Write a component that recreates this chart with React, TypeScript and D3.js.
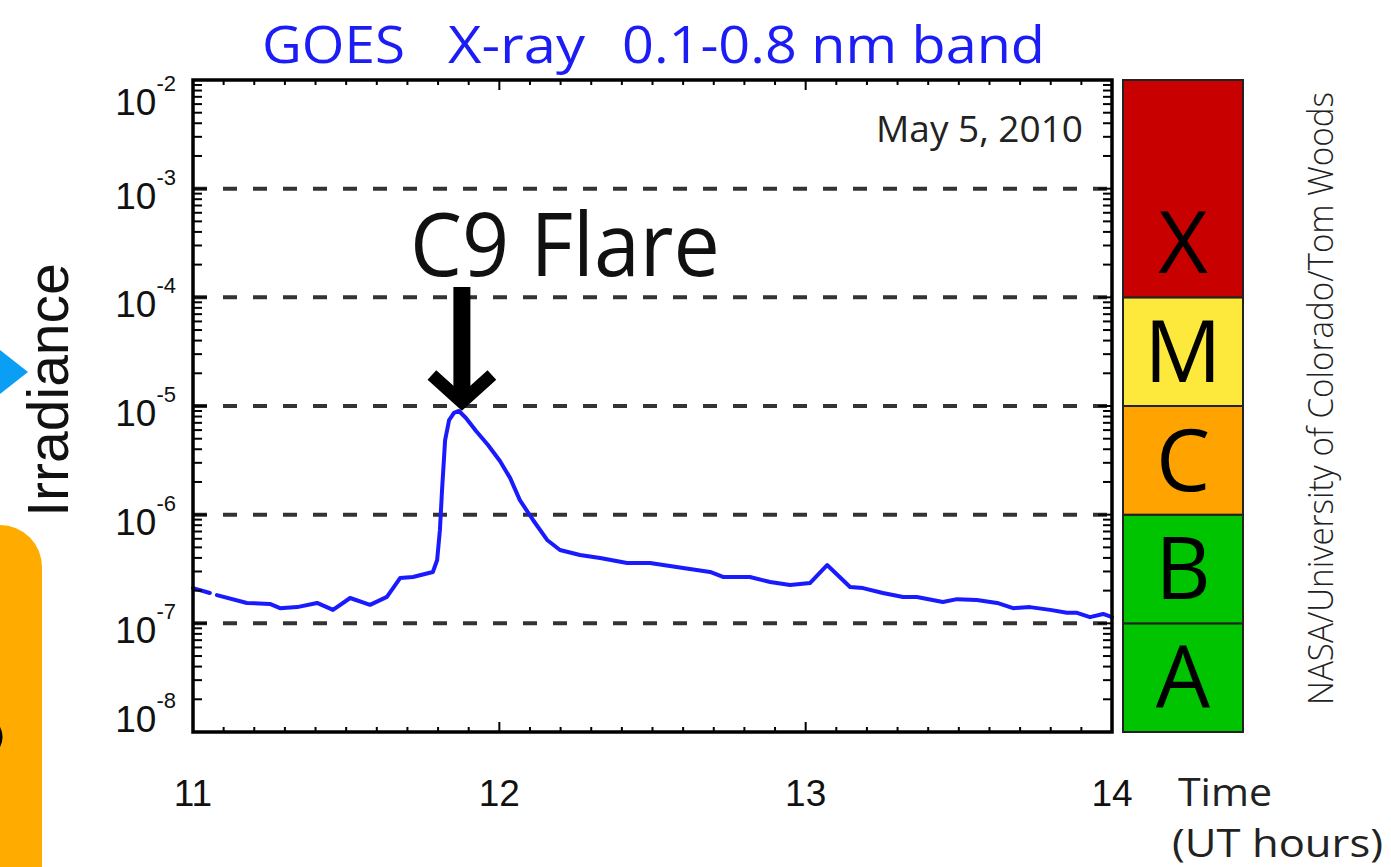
import React from 'react';
import * as d3 from 'd3';

// GOES 0.1-0.8 nm irradiance, May 5 2010; null = data gap
const hours = [
  11.0, 11.055, 11.066, 11.078, 11.176, 11.251, 11.284, 11.34, 11.405, 11.457, 11.513, 11.578,
  11.633, 11.676, 11.718, 11.783, 11.797, 11.806, 11.813, 11.823, 11.836, 11.852, 11.868,
  11.891, 11.924, 11.963, 12.002, 12.035, 12.067, 12.11, 12.156, 12.198, 12.263, 12.329,
  12.417, 12.492, 12.6, 12.688, 12.73, 12.818, 12.884, 12.949, 13.014, 13.07, 13.145,
  13.187, 13.252, 13.318, 13.363, 13.448, 13.494, 13.559, 13.625, 13.677, 13.732, 13.798,
  13.853, 13.886, 13.928, 13.971, 14.0,
];
const irradiance: (number | null)[] = [
  2.11e-7, 1.9e-7, null, 1.82e-7, 1.54e-7, 1.51e-7, 1.38e-7, 1.41e-7, 1.54e-7, 1.33e-7, 1.71e-7, 1.48e-7,
  1.75e-7, 2.61e-7, 2.67e-7, 2.97e-7, 3.83e-7, 7.2e-7, 1.69e-6, 4.86e-6, 7.43e-6, 8.63e-6, 9.0e-6,
  7.76e-6, 5.89e-6, 4.38e-6, 3.12e-6, 2.18e-6, 1.36e-6, 8.93e-7, 5.85e-7, 4.73e-7, 4.26e-7, 3.99e-7,
  3.59e-7, 3.59e-7, 3.23e-7, 2.97e-7, 2.67e-7, 2.67e-7, 2.4e-7, 2.25e-7, 2.35e-7, 3.44e-7, 2.16e-7,
  2.11e-7, 1.9e-7, 1.75e-7, 1.75e-7, 1.57e-7, 1.67e-7, 1.64e-7, 1.54e-7, 1.38e-7, 1.41e-7, 1.33e-7,
  1.25e-7, 1.25e-7, 1.14e-7, 1.22e-7, 1.14e-7,
];

const xTicks = [11, 12, 13, 14];
const yExponents = [-8, -7, -6, -5, -4, -3, -2];
const dashedLevels = [1e-7, 1e-6, 1e-5, 1e-4, 1e-3];

const flareClasses = ['A', 'B', 'C', 'M', 'X'];
const classLower = [1e-8, 1e-7, 1e-6, 1e-5, 1e-4];
const classUpper = [1e-7, 1e-6, 1e-5, 1e-4, 1e-2];
const classColors = ['#00c400', '#00c400', '#ffa300', '#fde93c', '#c80000'];

const flareLabel = 'C9 Flare';
const flarePeak = { hour: 11.868, value: 9.0e-6 };

const W = 1391;
const H = 867;
const humanist = '"Open Sans", "Noto Sans", sans-serif';
const helv = '"Liberation Sans", Arial, sans-serif';

export default function App() {
  const x = d3.scaleLinear().domain([11, 14]).range([193, 1112]);
  const y = d3.scaleLog().domain([1e-8, 1e-2]).range([732, 80]);
  const [x0, x1] = x.range();
  const [yb, yt] = y.range();

  const pts = hours.map((h, i) => ({ h, v: irradiance[i] }));
  const line = d3
    .line<{ h: number; v: number | null }>()
    .defined((d) => d.v !== null)
    .x((d) => x(d.h))
    .y((d) => y(d.v as number));

  // minor log ticks
  const minor: number[] = [];
  for (let e = -8; e < -2; e++) for (let k = 2; k <= 9; k++) minor.push(k * Math.pow(10, e));
  const xMinor = d3.range(11, 14.001, 0.1);

  const peakX = x(flarePeak.hour);
  const tipY = y(1e-5) - 1;

  return (
    <svg width={W} height={H} style={{ position: 'absolute', left: 0, top: 0, background: '#fff' }}>
      {/* left decorations (cropped slide elements) */}
      <rect x={-60} y={525} width={102} height={400} rx={42} fill="#ffab00" />
      <path d="M -6,722 Q 6,737 -6,752" fill="none" stroke="#000" strokeWidth={5} />
      <polygon points="0,350 28,372 0,394" fill="#0a9ff5" />

      {/* title */}
      <g fill="#1c1cf5" fontFamily={humanist} fontSize={52}>
        <text x={262} y={63} textLength={143} lengthAdjust="spacingAndGlyphs">GOES</text>
        <text x={448} y={63} textLength={137} lengthAdjust="spacingAndGlyphs">X-ray</text>
        <text x={622} y={63} textLength={423} lengthAdjust="spacingAndGlyphs">0.1-0.8 nm band</text>
      </g>

      {/* dashed class levels */}
      {dashedLevels.map((v) => (
        <line key={v} x1={x0} x2={x1} y1={y(v)} y2={y(v)} stroke="#333" strokeWidth={4} strokeDasharray="14 16" />
      ))}

      {/* data */}
      <path d={line(pts) || ''} fill="none" stroke="#1a1aff" strokeWidth={4} strokeLinejoin="round" strokeLinecap="round" />

      {/* ticks */}
      <g stroke="#000" strokeWidth={2}>
        {minor.map((v) => (
          <g key={v}>
            <line x1={x0} x2={x0 + 9} y1={y(v)} y2={y(v)} />
            <line x1={x1} x2={x1 - 9} y1={y(v)} y2={y(v)} />
          </g>
        ))}
        {yExponents.map((e) => (
          <g key={e}>
            <line x1={x0} x2={x0 + 14} y1={y(Math.pow(10, e))} y2={y(Math.pow(10, e))} />
            <line x1={x1} x2={x1 - 14} y1={y(Math.pow(10, e))} y2={y(Math.pow(10, e))} />
          </g>
        ))}
        {xMinor.map((h) => {
          const major = Math.abs(h - Math.round(h)) < 1e-6;
          const len = major ? 10 : 5;
          return (
            <g key={h.toFixed(1)}>
              <line x1={x(h)} x2={x(h)} y1={yb} y2={yb - len} />
              <line x1={x(h)} x2={x(h)} y1={yt} y2={yt + len} />
            </g>
          );
        })}
      </g>
      <rect x={x0} y={yt} width={x1 - x0} height={yb - yt} fill="none" stroke="#000" strokeWidth={3.5} />

      {/* y labels */}
      <g fontFamily={helv} fill="#111">
        {yExponents.map((e, i) => {
          const off = i === 0 ? 0 : i === yExponents.length - 1 ? 35 : 20;
          return (
            <text key={e} x={176} y={y(Math.pow(10, e)) + off} textAnchor="end" fontSize={37}>
              10<tspan fontSize={22} dy={-24}>{e}</tspan>
            </text>
          );
        })}
      </g>
      {/* x labels */}
      <g fontFamily={helv} fill="#111" fontSize={37} textAnchor="middle">
        {xTicks.map((t) => (
          <text key={t} x={x(t)} y={806}>{t}</text>
        ))}
      </g>

      <text transform="translate(68,390) rotate(-90)" textAnchor="middle" fontFamily={helv} fontSize={57} fill="#111">
        Irradiance
      </text>

      <text x={1083} y={142} textAnchor="end" fontFamily={humanist} fontSize={37} fill="#222">May 5, 2010</text>

      {/* flare annotation */}
      <text x={peakX - 49} y={276} fontFamily={humanist} fontSize={88} fill="#111" textLength={310} lengthAdjust="spacingAndGlyphs">
        {flareLabel}
      </text>
      <line x1={peakX + 3} x2={peakX + 3} y1={287} y2={396} stroke="#000" strokeWidth={17} />
      <polyline
        points={`${peakX - 27},${tipY - 30} ${peakX + 3},${tipY - 3} ${peakX + 33},${tipY - 30}`}
        fill="none"
        stroke="#000"
        strokeWidth={13}
        strokeLinejoin="miter"
      />

      {/* class colour bar */}
      {flareClasses.map((c, i) => {
        const top = y(classUpper[i]);
        const bot = y(classLower[i]);
        return (
          <g key={c}>
            <rect x={1123} y={top} width={120} height={bot - top} fill={classColors[i]} stroke="#222" strokeWidth={2} />
            <text x={1183} y={bot - 24} textAnchor="middle" fontFamily={humanist} fontSize={86} fill="#000">{c}</text>
          </g>
        );
      })}

      {/* axis title, two lines */}
      <g fontFamily={humanist} fill="#222" fontSize={38}>
        <text x={1178} y={806} textLength={94} lengthAdjust="spacingAndGlyphs">Time</text>
        <text x={1172} y={857} textLength={211} lengthAdjust="spacingAndGlyphs">(UT hours)</text>
      </g>

      <text
        transform="translate(1333,705) rotate(-90)"
        fontFamily={humanist}
        fontWeight={300}
        fontSize={34}
        fill="#222"
        textLength={613}
        lengthAdjust="spacingAndGlyphs"
      >
        NASA/University of Colorado/Tom Woods
      </text>
    </svg>
  );
}
